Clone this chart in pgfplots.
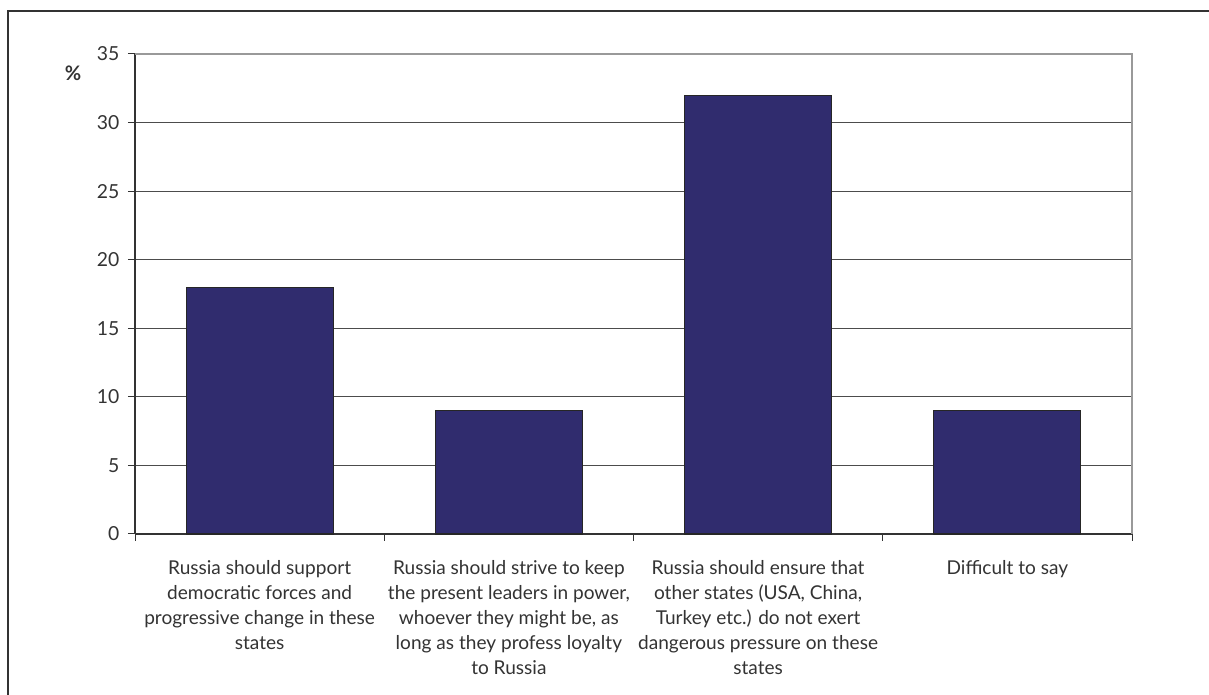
\documentclass[border=0pt]{standalone}
\usepackage{pgfplots}
\pgfplotsset{compat=1.18}
\usepackage{fontspec}
\setmainfont{Lato}
\definecolor{barblue}{HTML}{302C6E}
\definecolor{txt}{HTML}{333333}
\begin{document}
\begin{tikzpicture}
\useasboundingbox (0,0) rectangle (906.75pt,521.25pt);
% outer frame
\draw[color=black!80, line width=1.3pt] (6pt,-2pt) -- (6pt,513pt) -- (910pt,513pt);
\begin{axis}[
  at={(101.25pt,120.75pt)}, anchor=south west,
  scale only axis, width=747.75pt, height=360pt,
  ymin=0, ymax=35, ytick={0,5,...,35},
  xmin=-0.5, xmax=3.5,
  xtick={-0.5,0.5,1.5,2.5,3.5},
  x tick label as interval,
  xticklabels={
    {Russia should support\\democratic forces and\\progressive change in these\\states},
    {Russia should strive to keep\\the present leaders in power,\\whoever they might be, as\\long as they profess loyalty\\to Russia},
    {Russia should ensure that\\other states (USA, China,\\Turkey etc.) do not exert\\dangerous pressure on these\\states},
    {Difficult to say}},
  x tick label style={align=center, anchor=north, yshift=-11pt,
    font=\fontsize{14.3}{18.75}\selectfont, text=txt},
  y tick label style={font=\fontsize{14.5}{16}\selectfont, text=txt, xshift=-3pt},
  /pgf/number format/assume math mode=true,
  axis x line*=bottom, axis y line*=left,
  axis line style={black!80, line width=0.9pt},
  tick align=outside, major tick length=5.25pt,
  tick style={black!80, line width=0.75pt},
  ymajorgrids, grid style={black!70, line width=0.7pt},
  clip=false,
]
\addplot[ybar, bar width=110.25pt, fill=barblue, draw=black!85, line width=0.8pt]
  coordinates {(0,18) (1,9) (2,32) (3,9)};
\draw[black!40, line width=1.2pt] (rel axis cs:0,1) -- (rel axis cs:1,1) -- (rel axis cs:1,0);
\node[font=\fontsize{15}{16}\selectfont\bfseries, text=txt] at (rel axis cs:-0.062,0.96) {\%};
\end{axis}
\end{tikzpicture}
\end{document}
